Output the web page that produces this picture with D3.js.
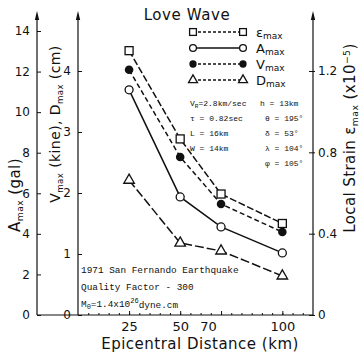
<!DOCTYPE html>
<html>
<head>
<meta charset="utf-8">
<script src="https://cdn.jsdelivr.net/npm/d3@7"></script>
<style>
  body { margin: 0; background: #fff; }
  svg text { font-family: "DejaVu Sans", sans-serif; fill: #111; }
  svg .mono { font-family: "Liberation Mono", monospace; }
</style>
</head>
<body>
<svg id="chart" width="359" height="355"></svg>
<script>
// values
var distances = [25, 50, 70, 100];
var strainMax = [1.30, 0.866, 0.595, 0.45];   // x10^-5, right axis
var accelMax = [11.1, 5.82, 4.34, 3.06];      // gal, outer left axis
var velMax = [4.02, 2.59, 1.82, 1.36];        // kine, inner left axis
var dispMax = [2.21, 1.18, 1.05, 0.64];       // cm, inner left axis

var xTicks = [25, 50, 70, 100];
var accelTicks = [0, 2, 4, 6, 8, 10, 12, 14];
var velTicks = [0, 1, 2, 3, 4];
var strainTicks = [0, 0.4, 0.8, 1.2];

var svg = d3.select('#chart');
var ink = '#111';

var x = d3.scaleLinear().domain([0, 115]).range([78, 313]);
var yA = d3.scaleLinear().domain([0, 14]).range([315, 31]);
var yV = d3.scaleLinear().domain([0, 4]).range([315, 71]);
var yS = d3.scaleLinear().domain([0, 1.2]).range([315, 71]);

var axisTopY = 11;
var xOuter = 37, xInner = x(0), xRight = x(115), yBase = yA(0);

function styleAxis(g, size) {
  g.select('.domain').remove();
  g.selectAll('line').attr('stroke', ink).attr('stroke-width', 1);
  g.selectAll('text').attr('font-size', size || 12).attr('fill', ink)
    .attr('font-family', '"DejaVu Sans", sans-serif');
}

// frame lines and arrows
var frame = svg.append('g').attr('stroke', ink).attr('stroke-width', 1.2);
[xOuter, xInner, xRight].forEach(function (xx) {
  frame.append('line').attr('x1', xx).attr('x2', xx).attr('y1', axisTopY + 4).attr('y2', yBase);
  svg.append('path').attr('fill', ink)
    .attr('d', 'M' + xx + ',' + axisTopY + 'L' + (xx - 2.2) + ',' + (axisTopY + 9) + 'L' + (xx + 2.2) + ',' + (axisTopY + 9) + 'Z');
});
frame.append('line').attr('x1', xOuter).attr('x2', xRight).attr('y1', yBase).attr('y2', yBase);

// axes
svg.append('g').attr('transform', 'translate(' + xOuter + ',0)')
  .call(d3.axisLeft(yA).tickValues(accelTicks).tickFormat(d3.format('d')).tickSizeInner(-4).tickSizeOuter(0).tickPadding(7))
  .call(styleAxis, 12);

svg.append('g').attr('transform', 'translate(' + xInner + ',0)')
  .call(d3.axisLeft(yV).tickValues(velTicks).tickFormat(d3.format('d')).tickSizeInner(-4).tickSizeOuter(0).tickPadding(7))
  .call(styleAxis, 12);

var sAxis = svg.append('g').attr('transform', 'translate(' + xRight + ',0)')
  .call(d3.axisRight(yS).tickValues(strainTicks)
    .tickFormat(function (d) { return d === 0 ? '0' : d3.format('.1f')(d); })
    .tickSizeInner(-4).tickSizeOuter(0).tickPadding(5))
  .call(styleAxis, 12);
sAxis.selectAll('.tick line').attr('x2', 2).attr('x1', -4);

svg.append('g').attr('transform', 'translate(0,' + yBase + ')')
  .call(d3.axisBottom(x).tickValues(d3.range(5, 115, 5)).tickSize(-2).tickFormat(''))
  .call(styleAxis);

var xAxis = svg.append('g').attr('transform', 'translate(0,' + yBase + ')')
  .call(d3.axisBottom(x).tickValues(xTicks).tickSizeInner(-4).tickSizeOuter(0).tickPadding(7))
  .call(styleAxis, 13);
xAxis.selectAll('.tick text').filter(function (d) { return d === 70; }).attr('dx', -13);

// series
var series = [
  { key: 'ε', values: strainMax, y: yS, marker: 'square', dash: '7,2.5' },
  { key: 'A', values: accelMax, y: yA, marker: 'circle', dash: null },
  { key: 'V', values: velMax, y: yV, marker: 'dot', dash: '5,3' },
  { key: 'D', values: dispMax, y: yV, marker: 'triangle', dash: '9,3' }
];

function drawMarker(g, type, cx, cy, k) {
  k = k || 1;
  if (type === 'square') {
    g.append('rect').attr('x', cx - 4 * k).attr('y', cy - 4 * k).attr('width', 8 * k).attr('height', 8 * k)
      .attr('fill', '#fff').attr('stroke', ink).attr('stroke-width', 1.3);
  } else if (type === 'circle') {
    g.append('circle').attr('cx', cx).attr('cy', cy).attr('r', 4 * k)
      .attr('fill', '#fff').attr('stroke', ink).attr('stroke-width', 1.3);
  } else if (type === 'dot') {
    g.append('circle').attr('cx', cx).attr('cy', cy).attr('r', 4.3 * k).attr('fill', ink);
  } else {
    g.append('path').attr('d', d3.symbol(d3.symbolTriangle, 48 * k * k)())
      .attr('transform', 'translate(' + cx + ',' + cy + ')')
      .attr('fill', '#fff').attr('stroke', ink).attr('stroke-width', 1.3);
  }
}

var plot = svg.append('g');
series.forEach(function (s) {
  var pts = distances.map(function (d, i) { return [x(d), s.y(s.values[i])]; });
  plot.append('path').attr('d', d3.line()(pts)).attr('fill', 'none')
    .attr('stroke', ink).attr('stroke-width', 1.5)
    .attr('stroke-dasharray', s.dash);
});
series.forEach(function (s) {
  distances.forEach(function (d, i) { drawMarker(plot, s.marker, x(d), s.y(s.values[i])); });
});

// legend
var legend = svg.append('g');
series.forEach(function (s, i) {
  var ly = 32 + i * 16;
  legend.append('line').attr('x1', 193).attr('x2', 243).attr('y1', ly).attr('y2', ly)
    .attr('stroke', ink).attr('stroke-width', 1.3).attr('stroke-dasharray', s.dash ? '3,2' : null);
  drawMarker(legend, s.marker, 193, ly, 0.85);
  drawMarker(legend, s.marker, 243, ly, 0.85);
  var t = legend.append('text').attr('x', 256).attr('y', ly + 4.5).attr('font-size', 13);
  t.append('tspan').text(s.key);
  t.append('tspan').attr('font-size', 9).attr('dy', 2).text('max');
});

// title
svg.append('text').attr('x', 187).attr('y', 20).attr('text-anchor', 'middle')
  .attr('font-size', 15).attr('letter-spacing', 0.6).text('Love Wave');

// fault parameters
var params = svg.append('g').attr('class', 'mono').attr('font-size', 8);
var vr = params.append('text').attr('class', 'mono').attr('x', 190).attr('y', 106);
vr.append('tspan').text('V');
vr.append('tspan').attr('font-size', 6).attr('dy', 2).text('R');
vr.append('tspan').attr('dy', -2).text('=2.8km/sec');
var leftCol = ['τ = 0.82sec', 'L = 16km', 'W = 14km'];
leftCol.forEach(function (t, i) {
  params.append('text').attr('class', 'mono').attr('x', 190).attr('y', 121 + i * 15).text(t);
});
params.append('text').attr('class', 'mono').attr('x', 260).attr('y', 106).text('h = 13km');
var rightCol = ['θ = 195°', 'δ = 53°', 'λ = 104°', 'φ = 105°'];
rightCol.forEach(function (t, i) {
  params.append('text').attr('class', 'mono').attr('x', 265).attr('y', 121 + i * 15).text(t);
});

// event info
var info = svg.append('g').attr('font-size', 9.4);
info.append('text').attr('class', 'mono').attr('x', 81).attr('y', 273).text('1971 San Fernando Earthquake');
info.append('text').attr('class', 'mono').attr('x', 81).attr('y', 290).text('Quality Factor - 300');
var m0 = info.append('text').attr('class', 'mono').attr('x', 81).attr('y', 307);
m0.append('tspan').text('M');
m0.append('tspan').attr('font-size', 7).attr('dy', 2).text('0');
m0.append('tspan').attr('dy', -2).text('=1.4x10');
m0.append('tspan').attr('font-size', 7).attr('dy', -4).text('26');
m0.append('tspan').attr('dy', 5).text('dyne.cm');

// axis titles
function rotTitle(cx, cy, parts, size) {
  var t = svg.append('text').attr('transform', 'translate(' + cx + ',' + cy + ') rotate(-90)')
    .attr('text-anchor', 'middle').attr('font-size', size).attr('letter-spacing', 0.4);
  parts.forEach(function (p) {
    var sp = t.append('tspan').text(p[0]);
    if (p[1] === 'sub') sp.attr('font-size', size * 0.62).attr('dy', 3);
    if (p[1] === 'up') sp.attr('dy', -3);
    if (p[1] === 'sup') sp.attr('font-size', size * 0.62).attr('dy', -5);
    if (p[1] === 'down') sp.attr('dy', 5);
  });
}
rotTitle(20, 195, [['A'], ['max', 'sub'], [' (gal)', 'up']], 15);
rotTitle(60, 124, [['V'], ['max', 'sub'], [' (kine), D', 'up'], ['max', 'sub'], [' (cm)', 'up']], 14);
rotTitle(355, 138, [['Local Strain ε'], ['max', 'sub'], [' (x10', 'up'], ['−5', 'sup'], [')', 'down']], 15);

svg.append('text').attr('x', 200).attr('y', 349).attr('text-anchor', 'middle')
  .attr('font-size', 15).attr('letter-spacing', 0.5).text('Epicentral Distance (km)');
</script>
</body>
</html>
